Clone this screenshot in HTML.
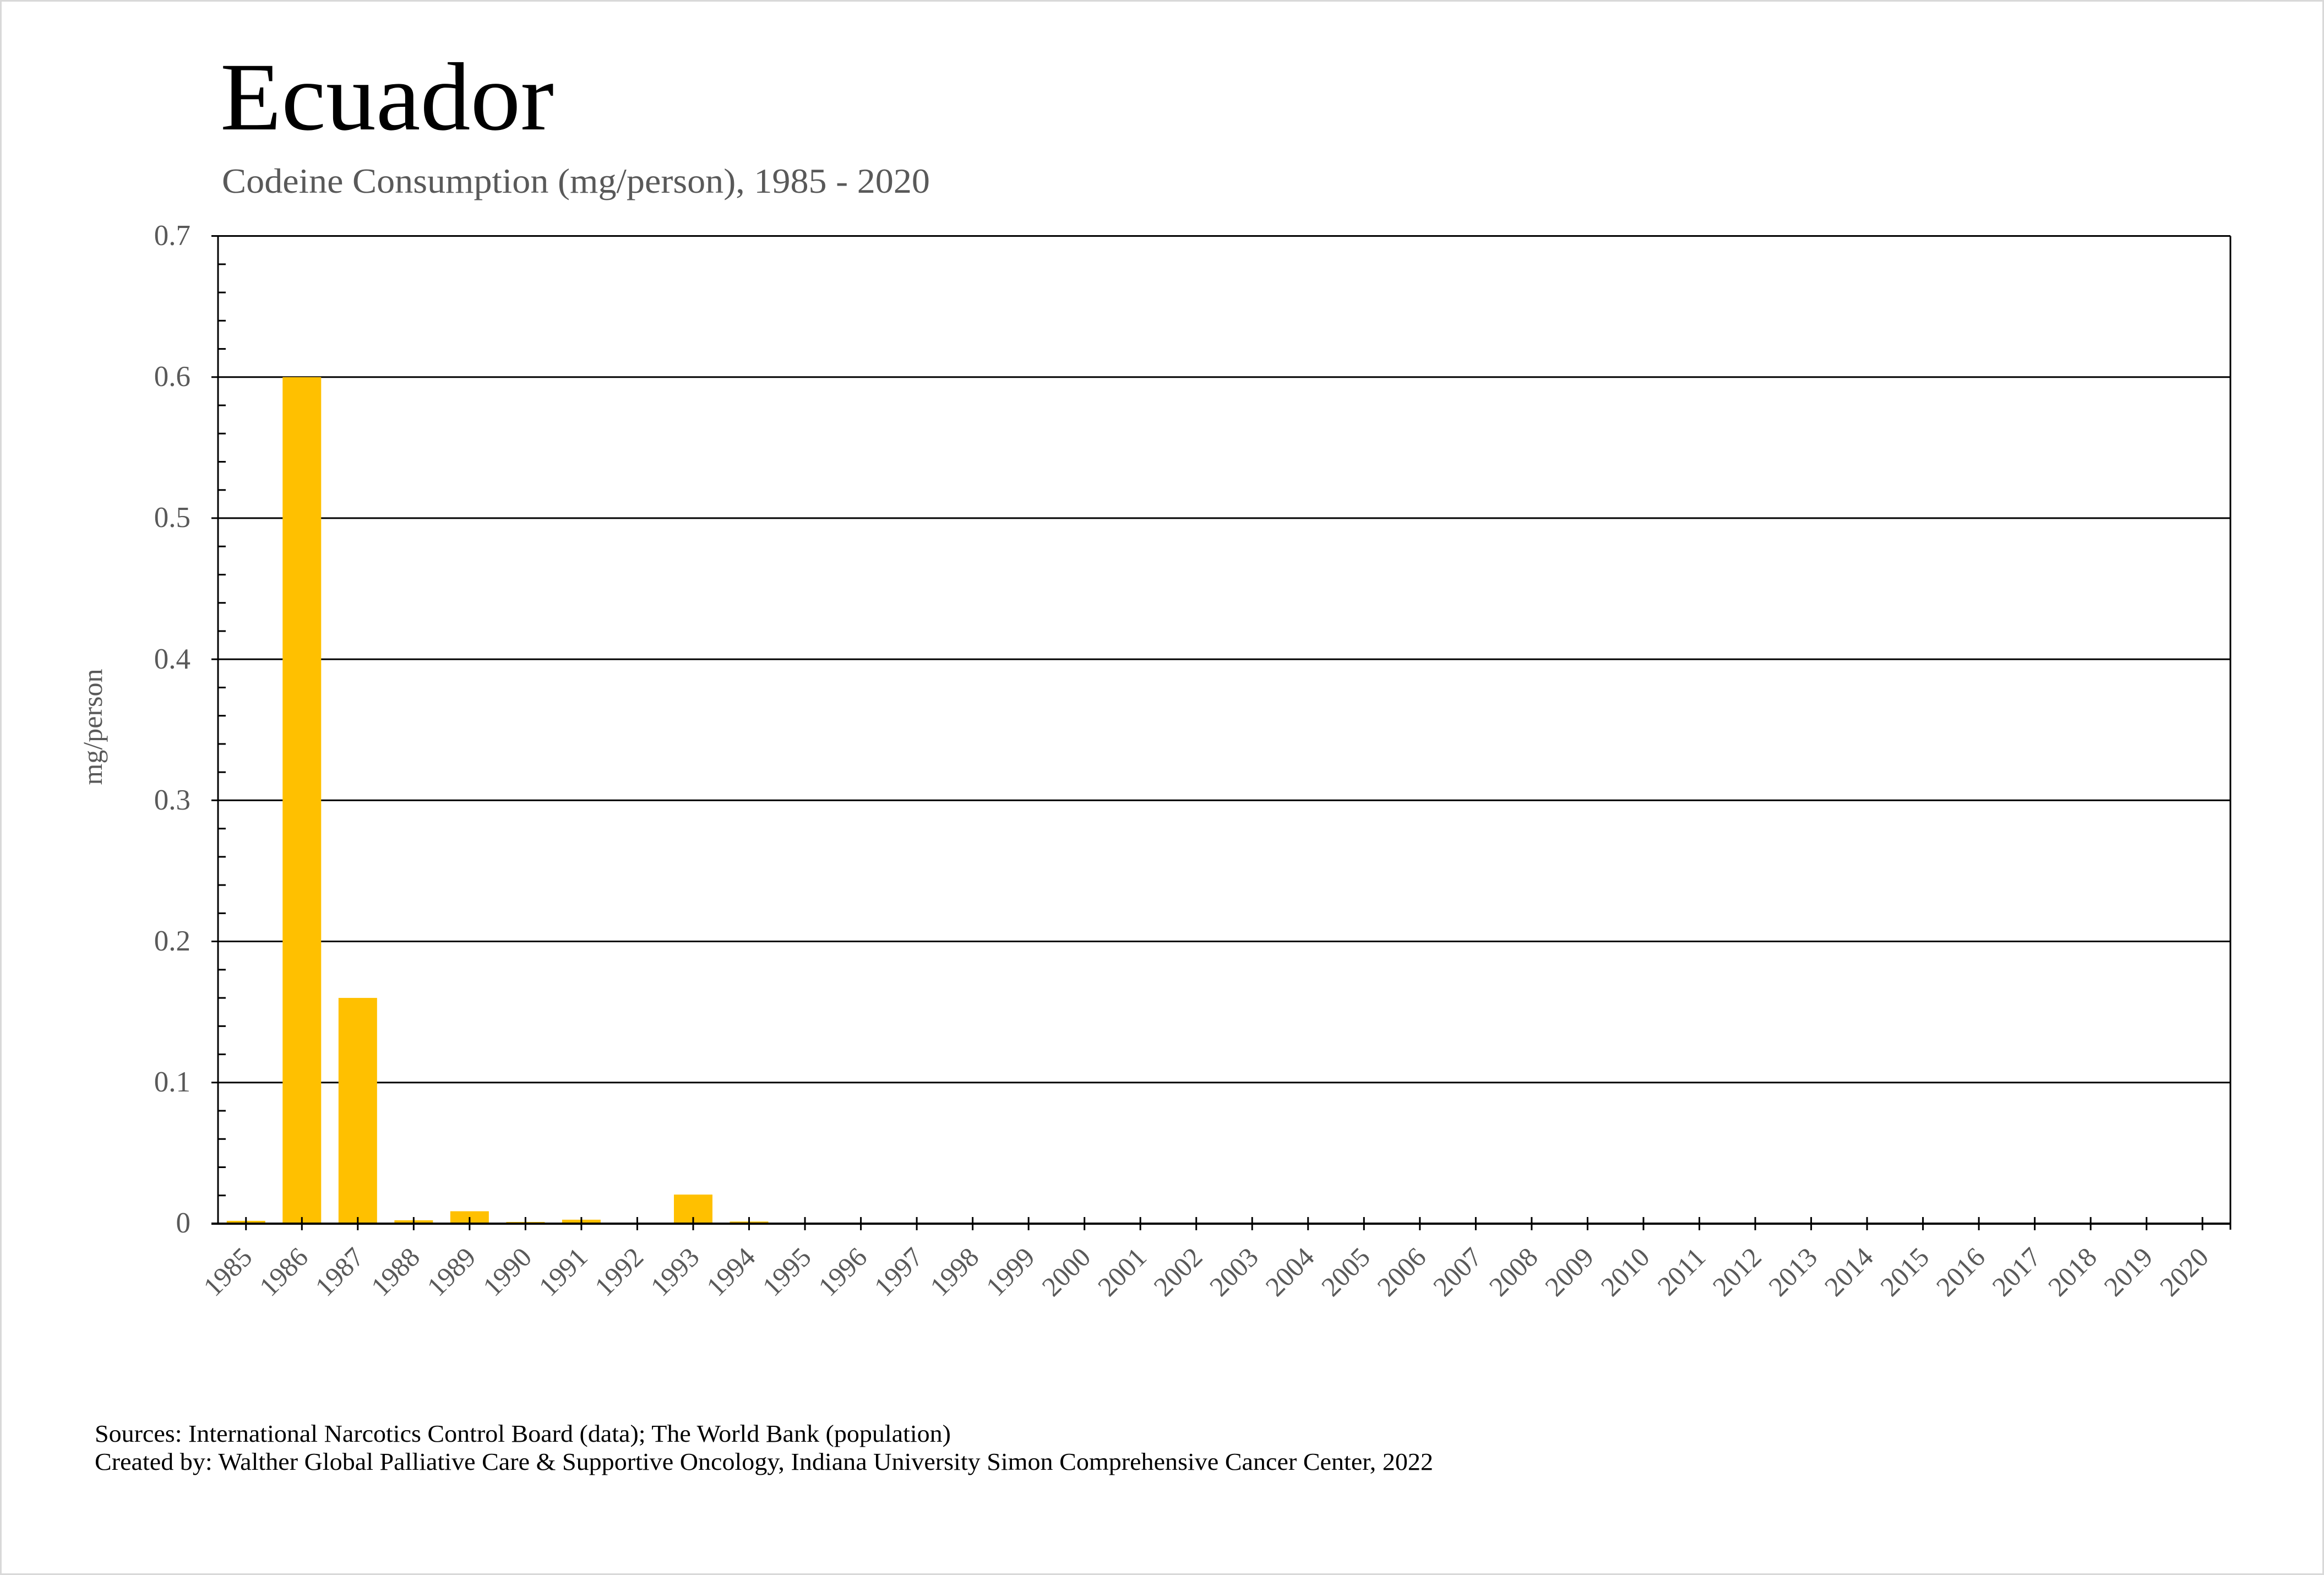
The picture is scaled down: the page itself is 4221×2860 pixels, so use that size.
<!DOCTYPE html>
<html><head><meta charset="utf-8"><style>
html,body{margin:0;padding:0;background:#fff}
svg{display:block}
</style></head><body>
<svg width="4221" height="2860" viewBox="0 0 4221 2860" xmlns="http://www.w3.org/2000/svg" font-family="'Liberation Serif', serif">
<rect x="1.5" y="1.5" width="4218" height="2857" fill="#fff" stroke="#d9d9d9" stroke-width="3"/>
<text x="400" y="235" font-size="176" fill="#000" textLength="606" lengthAdjust="spacingAndGlyphs">Ecuador</text>
<text x="403" y="350" font-size="64" fill="#595959" textLength="1286" lengthAdjust="spacingAndGlyphs">Codeine Consumption (mg/person), 1985 - 2020</text>
<text transform="translate(185,1320) rotate(-90)" text-anchor="middle" font-size="50" fill="#595959">mg/person</text>
<g id="grid" stroke="#000" stroke-width="3">
<line x1="384" x2="4051" y1="428.5" y2="428.5"/>
<line x1="384" x2="4051" y1="684.7" y2="684.7"/>
<line x1="384" x2="4051" y1="940.9" y2="940.9"/>
<line x1="384" x2="4051" y1="1197.1" y2="1197.1"/>
<line x1="384" x2="4051" y1="1453.3" y2="1453.3"/>
<line x1="384" x2="4051" y1="1709.5" y2="1709.5"/>
<line x1="384" x2="4051" y1="1965.7" y2="1965.7"/>
<line x1="4051" x2="4051" y1="428.5" y2="2233"/>
<line x1="396" x2="396" y1="428.5" y2="2222"/>
</g>
<g fill="#595959" font-size="53" text-anchor="end">
<text x="346" y="445">0.7</text>
<text x="346" y="701">0.6</text>
<text x="346" y="957">0.5</text>
<text x="346" y="1214">0.4</text>
<text x="346" y="1470">0.3</text>
<text x="346" y="1726">0.2</text>
<text x="346" y="1982">0.1</text>
<text x="346" y="2238">0</text>
</g>
<g id="bars" fill="#ffc000"></g>
<g id="minor" stroke="#000" stroke-width="3"></g>
<g id="xt" stroke="#000" stroke-width="3"></g>
<g id="xl" fill="#595959" font-size="50" text-anchor="end"></g>
<line x1="384" x2="4051" y1="2222" y2="2222" stroke="#000" stroke-width="4"/>
<text x="172" y="2618" font-size="44" fill="#000" textLength="1555" lengthAdjust="spacingAndGlyphs">Sources: International Narcotics Control Board (data); The World Bank (population)</text>
<text x="172" y="2669" font-size="44" fill="#000" textLength="2431" lengthAdjust="spacingAndGlyphs">Created by: Walther Global Palliative Care &amp; Supportive Oncology, Indiana University Simon Comprehensive Cancer Center, 2022</text>
<script>
var ns="http://www.w3.org/2000/svg";
function el(p,t,a,txt){var e=document.createElementNS(ns,t);for(var k in a)e.setAttribute(k,a[k]);if(txt)e.textContent=txt;document.getElementById(p).appendChild(e);}
var x0=396,w=(4051-396)/36,y0=2222,u=2562;
var v={0:0.002,1:0.6,2:0.16,3:0.0024,4:0.0088,5:0.0012,6:0.0028,8:0.0206,9:0.0015};
for(var i=0;i<36;i++){var c=x0+w*(i+0.5);
 if(v[i]){var h=v[i]*u;el("bars","rect",{x:c-35,y:y0-h,width:70,height:h});}
 el("xt","line",{x1:c,x2:c,y1:2210,y2:2234});
 el("xl","text",{transform:"translate("+(c+14)+",2286) rotate(-45)"},String(1985+i));
}
for(var j=0;j<35;j++){if(j%5==0)continue;var y=y0-j*51.24;el("minor","line",{x1:396,x2:410,y1:y,y2:y});}
</script>
</svg>
</body></html>
